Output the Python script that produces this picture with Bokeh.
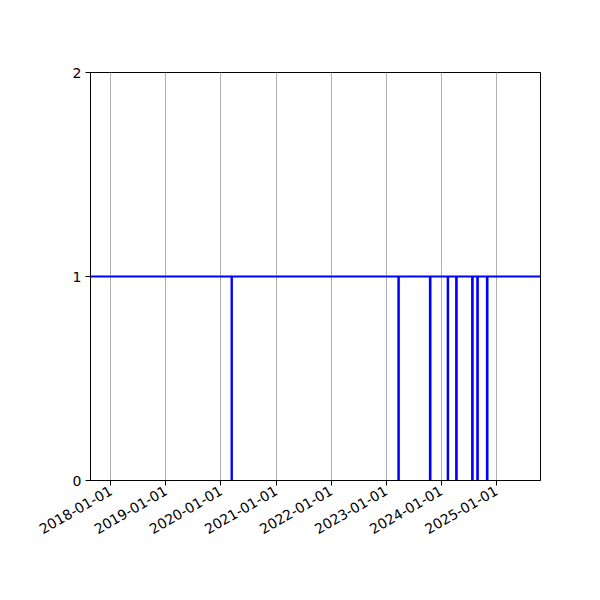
from bokeh.plotting import figure
from bokeh.embed import file_html
from bokeh.resources import INLINE
from bokeh.models import ColumnDataSource, FixedTicker, DatetimeTickFormatter, Range1d
import pandas as pd
import math

# status series: 1 = up, 0 = down (short drops)
dates = ["2017-08-19",
         "2020-03-12", "2020-03-13",
         "2023-03-23", "2023-03-25",
         "2023-10-18", "2023-10-21",
         "2024-02-13", "2024-02-15",
         "2024-04-09", "2024-04-12",
         "2024-07-24", "2024-07-27",
         "2024-08-27", "2024-08-30",
         "2024-10-30", "2024-11-02",
         "2025-10-20"]
status = [1, 0, 1, 0, 1, 0, 1, 0, 1, 0, 1, 0, 1, 0, 1, 0, 1, 1]

tick_dates = ["2018-01-01", "2019-01-01", "2020-01-01", "2021-01-01",
              "2022-01-01", "2023-01-01", "2024-01-01", "2025-01-01"]
y_ticks = [0, 1, 2]

x = pd.to_datetime(dates)
source = ColumnDataSource(data=dict(x=x, y=status))

def ms(d):
    return pd.Timestamp(d).value / 1e6

p = figure(width=590, height=590, x_axis_type="datetime",
           x_range=Range1d(x[0], x[-1]), y_range=Range1d(0, 2),
           toolbar_location=None, tools="", output_backend="svg",
           min_border_left=90, min_border_right=50,
           min_border_top=72, min_border_bottom=110)
p.background_fill_color = "white"
p.border_fill_color = "white"
p.outline_line_color = "black"
p.outline_line_width = 1

p.step(x="x", y="y", mode="after", source=source, line_color="#0000ff", line_width=2.2)

p.xaxis.ticker = FixedTicker(ticks=[ms(d) for d in tick_dates])
fmt = "%Y-%m-%d"
p.xaxis.formatter = DatetimeTickFormatter(years=fmt, months=fmt, days=fmt, hours=fmt,
                                          minutes=fmt, seconds=fmt, milliseconds=fmt,
                                          minsec=fmt, hourmin=fmt)
p.xaxis.major_label_orientation = math.pi / 6
p.yaxis.ticker = FixedTicker(ticks=y_ticks)

for ax in (p.xaxis, p.yaxis):
    ax.axis_line_color = "black"
    ax.major_tick_line_color = "black"
    ax.major_tick_out = 5
    ax.major_tick_in = 0
    ax.minor_tick_line_color = None
    ax.major_label_text_font = "DejaVu Sans"
    ax.major_label_text_font_size = "14px"
    ax.major_label_text_color = "black"
    ax.major_label_standoff = 4

p.xgrid.grid_line_color = "#b0b0b0"
p.xgrid.grid_line_width = 1
p.ygrid.grid_line_color = None

open("out.html", "w").write(file_html(p, INLINE))
